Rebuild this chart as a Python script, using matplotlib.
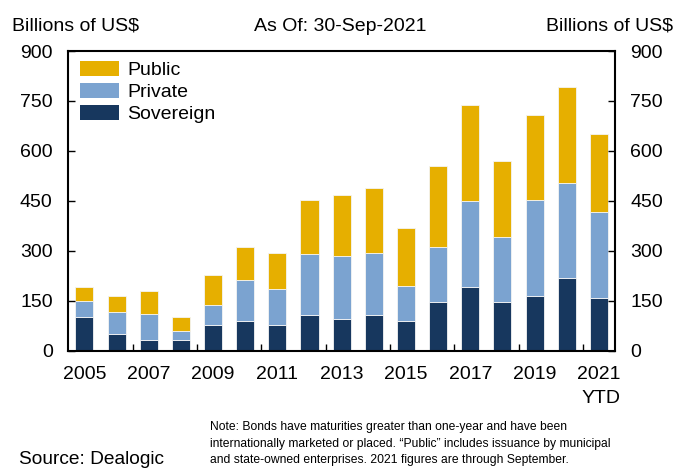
import matplotlib
matplotlib.use("Agg")
import matplotlib.pyplot as plt
import numpy as np
from matplotlib.patches import Patch

years = ["2005", "2006", "2007", "2008", "2009", "2010", "2011", "2012", "2013",
         "2014", "2015", "2016", "2017", "2018", "2019", "2020", "2021\nYTD"]
sovereign = [100, 49, 31, 31, 78, 88, 76, 106, 94, 106, 90, 145, 191, 147, 165, 217, 157]
private_top = [150, 116, 110, 59, 136, 212, 185, 290, 284, 293, 195, 310, 448, 341, 451, 503, 415]
total = [192, 164, 180, 100, 228, 310, 294, 452, 467, 489, 367, 553, 737, 570, 707, 793, 651]
private = [p - s for p, s in zip(private_top, sovereign)]
public = [t - p for t, p in zip(total, private_top)]
yticks = [0, 150, 300, 450, 600, 750, 900]

plt.rcParams['font.family'] = ['Liberation Sans', 'DejaVu Sans']

W, H = 676, 468
fig = plt.figure(figsize=(W/100, H/100), dpi=100)
L, R, T, B = 68, 615, 51, 350.5
ax = fig.add_axes([L/W, 1-B/H, (R-L)/W, (B-T)/H])

x = np.arange(len(years))
w = 0.56
c_sov, c_priv, c_pub = "#17375E", "#7BA3D0", "#E6AF00"
ec = "#f4f4f4"
ax.bar(x, sovereign, w, color=c_sov, edgecolor=ec, linewidth=0.6)
ax.bar(x, private, w, bottom=sovereign, color=c_priv, edgecolor=ec, linewidth=0.6)
ax.bar(x, public, w, bottom=private_top, color=c_pub, edgecolor=ec, linewidth=0.6)

ax.set_xlim(-0.51, 16.5)
ax.set_ylim(0, 900)
ax.set_yticks(yticks)
ax.set_yticklabels([str(v) for v in yticks])
ax.tick_params(axis='y', direction='in', length=5, width=1, labelsize=14,
               left=True, right=True, labelleft=True, labelright=True, pad=11)

ax.set_xticks(x[::2])
ax.set_xticklabels(years[::2], fontsize=14)
ax.set_xticks(np.arange(1.5, 16, 2), minor=True)
ax.tick_params(axis='x', which='major', length=0, pad=11)
ax.tick_params(axis='x', which='minor', direction='in', length=5, width=1)
for lbl in ax.get_xticklabels():
    lbl.set_linespacing(1.55)
    lbl.set_horizontalalignment('center')
    lbl.set_multialignment('right')
for s in ax.spines.values():
    s.set_linewidth(1.5)

handles = [Patch(facecolor=c_pub, label="Public"),
           Patch(facecolor=c_priv, label="Private"),
           Patch(facecolor=c_sov, label="Sovereign")]
ax.legend(handles=handles, loc='upper left', frameon=False, fontsize=14,
          handlelength=1.96, handleheight=0.82, labelspacing=0.2,
          handletextpad=0.46, borderaxespad=0.1, bbox_to_anchor=(0.005, 1.0))

hy = 1 - 30.7/H
fig.text(11.5/W, hy, "Billions of US$", fontsize=14, ha='left', va='baseline')
fig.text(340/W, hy, "As Of: 30-Sep-2021", fontsize=14, ha='center', va='baseline')
fig.text(672.7/W, hy, "Billions of US$", fontsize=14, ha='right', va='baseline')
fig.text(19.3/W, 1-464/H, "Source: Dealogic", fontsize=13.8, ha='left', va='baseline')
fig.text(210/W, 1-443.5/H,
         "Note: Bonds have maturities greater than one-year and have been\n"
         "internationally marketed or placed. \u201cPublic\u201d includes issuance by municipal\n"
         "and state-owned enterprises. 2021 figures are through September.",
         fontsize=8.7, ha='left', va='center', linespacing=1.45)

fig.savefig("out.png", dpi=100)
